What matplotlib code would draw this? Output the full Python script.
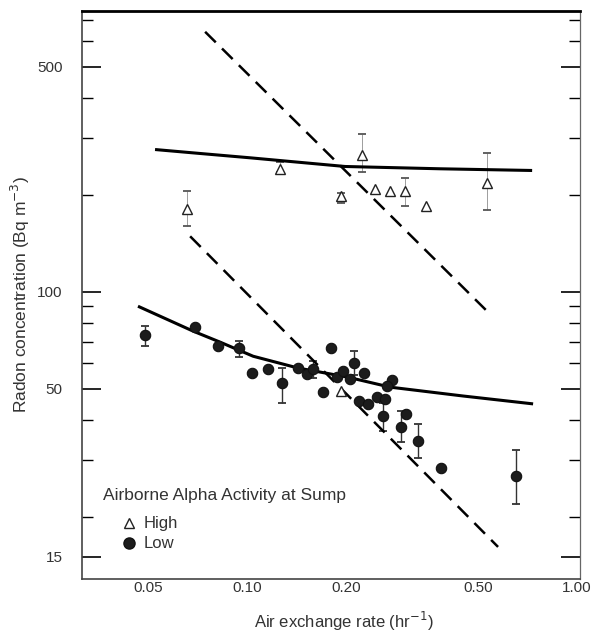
import numpy as np
import matplotlib
matplotlib.use("Agg")
import matplotlib.pyplot as plt
from matplotlib.lines import Line2D

plt.rcParams['font.family'] = ['Liberation Sans', 'DejaVu Sans']

# ---- data ----
x_ticks = [0.05, 0.10, 0.20, 0.50, 1.00]
x_ticklabels = ["0.05", "0.10", "0.20", "0.50", "1.00"]
y_major = [15, 50, 100, 500]
y_major_labels = ["15", "50", "100", "500"]
y_minor = [20, 30, 40, 60, 70, 80, 90, 200, 300, 400, 600, 700]

# High airborne alpha activity (open triangles)
high_x = [0.0658, 0.126, 0.193, 0.223, 0.244, 0.271, 0.301, 0.349, 0.534, 0.193]
high_y = [181, 241, 198, 265, 208, 206, 206, 184, 217, 49]
high_lo = [160, 235, 189, 236, np.nan, np.nan, 184, np.nan, 179, np.nan]
high_hi = [206, 252, 203, 308, np.nan, np.nan, 226, np.nan, 270, np.nan]

# Low airborne alpha activity (filled circles)
low_x = [0.0491, 0.0696, 0.0817, 0.0946, 0.1035, 0.1158, 0.1277, 0.1427, 0.152,
         0.1585, 0.1797, 0.1699, 0.1874, 0.1954, 0.2051, 0.211, 0.2262, 0.275,
         0.2656, 0.2185, 0.2326, 0.2477, 0.2619, 0.2583, 0.2929, 0.3032, 0.3298,
         0.3872, 0.6532]
low_y = [73.2, 77.5, 67.7, 66.8, 55.8, 57.4, 52.0, 57.9, 55.4,
         57.4, 66.8, 48.8, 54.3, 56.6, 53.5, 60.0, 55.8, 53.1,
         50.9, 45.7, 44.8, 47.0, 46.4, 41.1, 38.0, 41.7, 34.4,
         28.3, 26.8]
low_lo = [67.9, np.nan, np.nan, 62.6, np.nan, np.nan, 45.1, np.nan, np.nan,
          54.0, np.nan, np.nan, np.nan, np.nan, np.nan, 55.0, np.nan, np.nan,
          np.nan, np.nan, np.nan, np.nan, np.nan, 36.9, 34.1, np.nan, 30.4,
          np.nan, 21.9]
low_hi = [78.3, np.nan, np.nan, 70.2, np.nan, np.nan, 57.8, np.nan, np.nan,
          60.9, np.nan, np.nan, np.nan, np.nan, np.nan, 65.3, np.nan, np.nan,
          np.nan, np.nan, np.nan, np.nan, np.nan, 45.0, 42.6, np.nan, 38.8,
          np.nan, 32.2]

# fitted curves (sampled along the drawn lines)
high_fit_x = [0.0526, 0.0720, 0.1021, 0.1981, 0.3845, 0.7306]
high_fit_y = [276.5, 268.8, 260.6, 244.9, 240.9, 238.0]
low_fit_x = [0.0467, 0.0686, 0.0828, 0.1043, 0.1427, 0.2009, 0.2713, 0.4514, 0.7356]
low_fit_y = [90.1, 75.4, 69.7, 63.0, 57.9, 54.3, 50.5, 47.4, 44.8]

# dashed reference lines (endpoints)
high_dash_x = [0.0746, 0.534]
high_dash_y = [642, 86.9]
low_dash_x = [0.0672, 0.576]
low_dash_y = [148.6, 16.1]

# ---- figure ----
fig = plt.figure(figsize=(5.93, 6.32), dpi=100)
ax = fig.add_axes([0.1383, 0.0839, 0.8397, 0.8987])
ax.set_xscale('log')
ax.set_yscale('log')
ax.set_xlim(0.0316, 1.02)
ax.set_ylim(12.8, 745)

txt = '#333333'

# lines
ax.plot(high_fit_x, high_fit_y, color='black', lw=2.2, solid_capstyle='butt', zorder=3)
ax.plot(low_fit_x, low_fit_y, color='black', lw=2.2, solid_capstyle='butt', zorder=3)
ax.plot(high_dash_x, high_dash_y, color='black', lw=1.8, dashes=(6, 3.5), zorder=3)
ax.plot(low_dash_x, low_dash_y, color='black', lw=1.8, dashes=(6, 3.5), zorder=3)

# error bars
def draw_err(xs, ys, lo, hi, lw_bar, bar_color):
    xs = np.asarray(xs, float); ys = np.asarray(ys, float)
    lo = np.asarray(lo, float); hi = np.asarray(hi, float)
    m = ~np.isnan(lo)
    yerr = np.vstack([ys[m] - lo[m], hi[m] - ys[m]])
    ax.errorbar(xs[m], ys[m], yerr=yerr, fmt='none', ecolor=bar_color,
                elinewidth=lw_bar, capsize=3.2, capthick=1.3, zorder=2)

draw_err(high_x, high_y, high_lo, high_hi, 0.4, '#555555')
draw_err(low_x, low_y, low_lo, low_hi, 1.0, '#333333')

# points
ax.plot(high_x, high_y, linestyle='none', marker='^', ms=7.5, mfc='white',
        mec='#222222', mew=1.0, zorder=4)
ax.plot(low_x, low_y, linestyle='none', marker='o', ms=7.5, mfc='#1c1c1c',
        mec='#111111', mew=0.8, zorder=4)

# axes styling
ax.set_xticks(x_ticks)
ax.set_xticklabels(x_ticklabels)
ax.xaxis.set_minor_locator(matplotlib.ticker.NullLocator())
ax.set_yticks(y_major)
ax.set_yticklabels(y_major_labels)
ax.set_yticks(y_minor, minor=True)
ax.yaxis.set_minor_formatter(matplotlib.ticker.NullFormatter())

ax.tick_params(axis='x', which='both', length=0, pad=1.5, labelsize=11, labelcolor=txt)
ax.tick_params(axis='y', which='major', direction='in', length=14, width=1.2,
               left=True, right=True, pad=14, labelsize=11, labelcolor=txt)
ax.tick_params(axis='y', which='minor', direction='in', length=8, width=1.0,
               left=True, right=True)

for s in ['left', 'bottom']:
    ax.spines[s].set_color('#444444')
    ax.spines[s].set_linewidth(1.2)
ax.spines['top'].set_color('black')
ax.spines['top'].set_linewidth(2.0)
ax.spines['right'].set_color('#666666')
ax.spines['right'].set_linewidth(0.9)

ax.set_xlabel('Air exchange rate (hr$^{-1}$)', fontsize=12, color=txt)
ax.xaxis.set_label_coords(0.526, -0.055)
ax.set_ylabel('Radon concentration (Bq m$^{-3}$)', fontsize=12.5, color=txt, labelpad=4)

# legend
h_high = Line2D([], [], linestyle='none', marker='^', ms=7, mfc='white', mec='#222222', mew=1.0)
h_low = Line2D([], [], linestyle='none', marker='o', ms=8, mfc='#1c1c1c', mec='#111111')
leg = ax.legend([h_high, h_low], ['High', 'Low'], title='Airborne Alpha Activity at Sump',
                loc='upper left', bbox_to_anchor=(0.042, 0.161), frameon=False,
                fontsize=12, title_fontsize=12.5, borderpad=0, handlelength=3.1,
                handletextpad=-0.65, labelspacing=0.3, alignment='left',
                borderaxespad=0)
leg.get_title().set_color(txt)
for t in leg.get_texts():
    t.set_color(txt)
leg._legend_box.sep = 10

fig.savefig('out.png', dpi=100)
